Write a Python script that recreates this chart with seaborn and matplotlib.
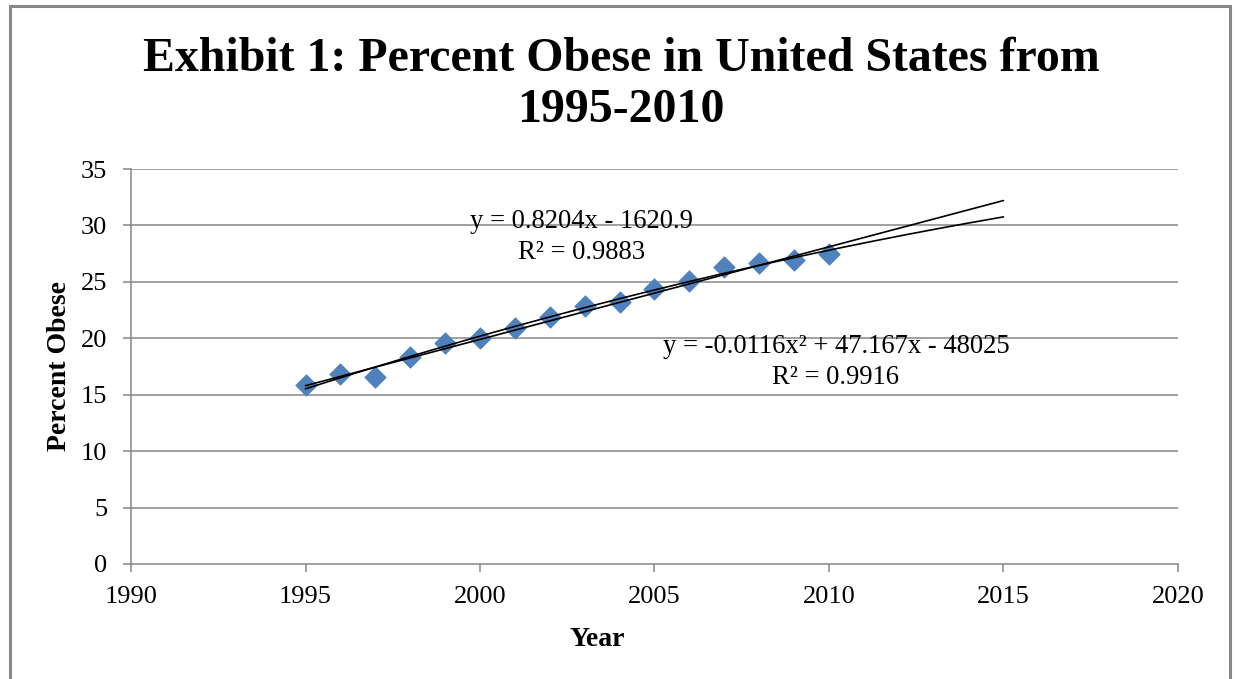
import numpy as np
import pandas as pd
import matplotlib
matplotlib.use("Agg")
import matplotlib.pyplot as plt
from matplotlib.patches import Rectangle
import seaborn as sns

# Adult obesity rate by year
years = [1995, 1996, 1997, 1998, 1999, 2000, 2001, 2002,
         2003, 2004, 2005, 2006, 2007, 2008, 2009, 2010]
percent_obese = [15.9, 16.8, 16.6, 18.3, 19.6, 20.0, 20.9, 21.9,
                 22.9, 23.2, 24.4, 25.1, 26.3, 26.7, 26.9, 27.5]

# Trendline settings
linear_coef = [0.8204, -1620.9]
forecast_end = 2015
linear_label = "y = 0.8204x - 1620.9\nR² = 0.9883"
poly_label = "y = -0.0116x² + 47.167x - 48025\nR² = 0.9916"

x_ticks = [1990, 1995, 2000, 2005, 2010, 2015, 2020]
y_ticks = [0, 5, 10, 15, 20, 25, 30, 35]

sns.set_theme(style="white")
plt.rcParams["font.family"] = ["Liberation Serif", "DejaVu Serif"]
plt.rcParams["text.color"] = "black"
plt.rcParams["axes.labelcolor"] = "black"

df = pd.DataFrame({"Year": years, "Percent Obese": percent_obese})

fig = plt.figure(figsize=(12.35, 6.79), dpi=100)
ax = fig.add_axes([0.1061, 0.1694, 0.8477, 0.5817])

grid_col = "#868686"
for v in y_ticks[1:]:
    ax.axhline(v, color=grid_col, lw=1.1, zorder=0)

# Trendlines, extended forward to 2015
xs = np.linspace(years[0], forecast_end, 200)
ax.plot(xs, np.polyval(linear_coef, xs), color="black", lw=1.2, zorder=3)

x_arr = np.array(years, dtype=float)
xc = x_arr.mean()
quad = np.polyfit(x_arr - xc, np.array(percent_obese), 2)
ax.plot(xs, np.polyval(quad, xs - xc), color="black", lw=1.2, zorder=3)

sns.scatterplot(data=df, x="Year", y="Percent Obese", marker="D", s=120,
                color="#4F81BD", edgecolor="#4A7EBB", linewidth=0.5,
                ax=ax, zorder=2)

ax.set_xlim(1990, 2020)
ax.set_ylim(0, 35)
ax.set_xticks(x_ticks)
ax.set_yticks(y_ticks)
ax.tick_params(axis="both", which="major", direction="out", length=6,
               width=1.1, color=grid_col, labelsize=19, labelcolor="black",
               bottom=True, left=True)
ax.tick_params(axis="x", pad=10)
ax.tick_params(axis="y", pad=11)

for side in ["top", "right"]:
    ax.spines[side].set_visible(False)
for side in ["left", "bottom"]:
    ax.spines[side].set_color(grid_col)
    ax.spines[side].set_linewidth(1.1)

ax.set_xlabel("Year", fontsize=20, fontweight="bold")
ax.set_ylabel("Percent Obese", fontsize=20, fontweight="bold")
ax.xaxis.set_label_coords(0.445, -0.16)
ax.yaxis.set_label_coords(-0.056, 0.5)

ax.text(2002.9, 29.0, linear_label, ha="center", va="center",
        fontsize=19.2, linespacing=1.3, zorder=4)
ax.text(2010.2, 17.9, poly_label, ha="center", va="center",
        fontsize=19.2, linespacing=1.3, zorder=4)

fig.text(0.503, 0.876, "Exhibit 1: Percent Obese in United States from\n1995-2010",
         ha="center", va="center", fontsize=34.5, fontweight="bold",
         linespacing=1.2)

# Chart frame
fig.patches.append(Rectangle((10 / 1235, -0.05), 1220 / 1235, 1.05 - 6 / 679,
                             transform=fig.transFigure, fill=False,
                             edgecolor="#888888", lw=2.2))

fig.savefig("out.png", dpi=100)
